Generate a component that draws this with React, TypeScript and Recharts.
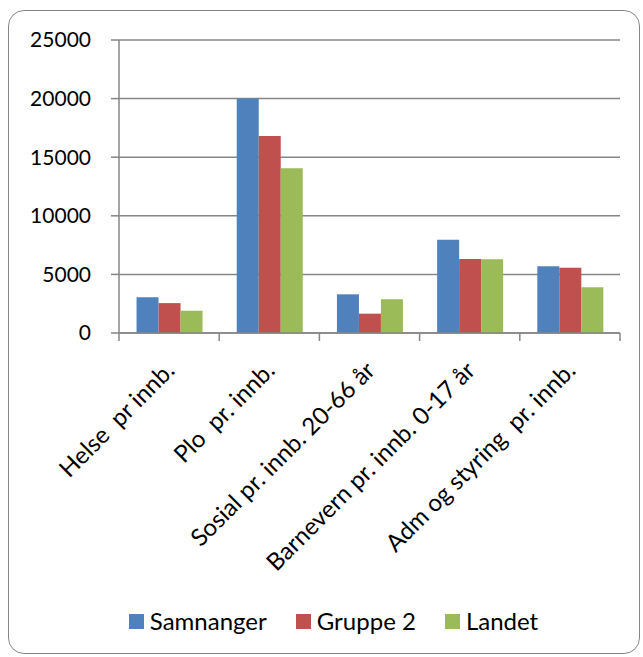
import React from "react";
import { Bar, BarChart, CartesianGrid, Legend, XAxis, YAxis } from "recharts";

const categories = [
  "Helse  pr innb.",
  "Plo  pr. innb.",
  "Sosial pr. innb. 20-66 år",
  "Barnevern pr. innb. 0-17 år",
  "Adm og styring  pr. innb.",
];
const samnanger = [3050, 20000, 3300, 7950, 5700];
const gruppe2 = [2550, 16800, 1650, 6320, 5560];
const landet = [1900, 14050, 2880, 6290, 3900];
const yTicks = [0, 5000, 10000, 15000, 20000, 25000];

const series = [
  { key: "samnanger", name: "Samnanger", color: "#4F81BD" },
  { key: "gruppe2", name: "Gruppe 2", color: "#C0504D" },
  { key: "landet", name: "Landet", color: "#9BBB59" },
];

const data = categories.map((name, i) => ({
  name,
  samnanger: samnanger[i],
  gruppe2: gruppe2[i],
  landet: landet[i],
}));

const AXIS = "#868686";
const FONT = "Lato, 'Open Sans', sans-serif";

function CategoryTick(props: any) {
  const { x, y, payload, index } = props;
  const half = payload?.offset || 50;
  const ax = x + 7;
  const ay = y + 39;
  return (
    <g>
      <line x1={x - half} y1={y} x2={x - half} y2={y + 8} stroke={AXIS} strokeWidth={1.5} />
      {index === categories.length - 1 && (
        <line x1={x + half} y1={y} x2={x + half} y2={y + 8} stroke={AXIS} strokeWidth={1.5} />
      )}
      <text
        x={ax}
        y={ay}
        textAnchor="end"
        fontSize={24}
        fill="#000"
        fontFamily={FONT}
        transform={`rotate(-45, ${ax}, ${ay})`}
        style={{ whiteSpace: "pre" }}
      >
        {payload.value}
      </text>
    </g>
  );
}

function LegendBox() {
  return (
    <div
      style={{
        display: "flex",
        justifyContent: "center",
        gap: 29,
        fontFamily: FONT,
        fontSize: 24,
        lineHeight: "28px",
        color: "#000",
        paddingLeft: 24,
      }}
    >
      {series.map((s) => (
        <div key={s.key} style={{ display: "flex", alignItems: "center" }}>
          <span style={{ width: 15, height: 15, background: s.color, marginRight: 6 }} />
          {s.name}
        </div>
      ))}
    </div>
  );
}

export default function App() {
  return (
    <div style={{ position: "absolute", left: 0, top: 0, width: 643, height: 657, background: "#fff" }}>
      <div
        style={{
          position: "absolute",
          left: 8,
          top: 10,
          width: 632,
          height: 644,
          border: `1.5px solid ${AXIS}`,
          borderRadius: 16,
          boxSizing: "border-box",
        }}
      />
      <BarChart
        width={643}
        height={657}
        data={data}
        margin={{ top: 40, right: 23, left: 0, bottom: 124 }}
        barCategoryGap="17.5%"
        barGap={0}
        style={{ position: "absolute", left: 0, top: 0 }}
      >
        <CartesianGrid vertical={false} stroke={AXIS} strokeWidth={1.5} />
        <XAxis
          dataKey="name"
          height={200}
          interval={0}
          tickSize={0}
          tickMargin={0}
          axisLine={{ stroke: AXIS, strokeWidth: 1.5 }}
          tickLine={false}
          tick={<CategoryTick />}
        />
        <YAxis
          width={119}
          domain={[0, 25000]}
          ticks={yTicks}
          interval={0}
          tickSize={8}
          tickMargin={20}
          axisLine={{ stroke: AXIS, strokeWidth: 1.5 }}
          tickLine={{ stroke: AXIS, strokeWidth: 1.5 }}
          tick={{ fontSize: 21, fill: "#000", fontFamily: FONT }}
        />
        {series.map((s) => (
          <Bar key={s.key} dataKey={s.key} name={s.name} fill={s.color} isAnimationActive={false} />
        ))}
        <Legend
          layout="horizontal"
          verticalAlign="middle"
          align="center"
          wrapperStyle={{ top: 607, left: 0, width: 643 }}
          content={<LegendBox />}
        />
      </BarChart>
    </div>
  );
}
